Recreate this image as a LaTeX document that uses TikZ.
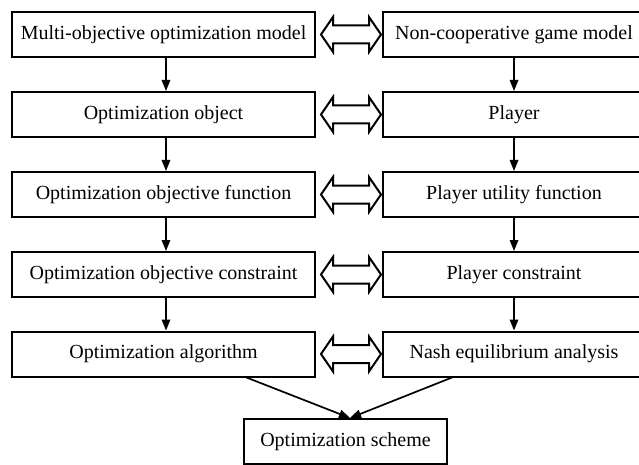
\documentclass[tikz,border=0pt]{standalone}
\usepackage{fontspec}
\setmainfont{Liberation Serif}
\usetikzlibrary{arrows.meta,calc}
\begin{document}
\begin{tikzpicture}[x=1pt,y=-1pt,
  box/.style={draw,line width=2pt,minimum height=45pt,inner sep=0pt,
    font=\fontsize{20}{24}\selectfont},
  lbox/.style={box,minimum width=303pt},
  rbox/.style={box,minimum width=262pt},
  flow/.style={line width=1.7pt,-{Triangle[length=11pt,width=8.5pt]}},
  link/.style={line width=2pt,fill=white,line join=miter}]
\useasboundingbox (0,0) rectangle (639,465);

% left column: optimization model
\node[lbox] (L1) at (163.5,34.5)  {Multi-objective optimization model};
\node[lbox] (L2) at (163.5,114.5) {Optimization object};
\node[lbox] (L3) at (163.5,194.5) {Optimization objective function};
\node[lbox] (L4) at (163.5,274.5) {Optimization objective constraint};
\node[lbox] (L5) at (163.5,354)   {Optimization algorithm};

% right column: game model
\node[rbox] (R1) at (514,34.5)  {Non-cooperative game model};
\node[rbox] (R2) at (514,114.5) {Player};
\node[rbox] (R3) at (514,194.5) {Player utility function};
\node[rbox] (R4) at (514,274.5) {Player constraint};
\node[rbox] (R5) at (514,354)   {Nash equilibrium analysis};

% result
\node[box,minimum width=203pt] (S) at (345.5,441.5) {Optimization scheme};

% vertical flow in each column
\foreach \a/\b in {1/2,2/3,3/4,4/5}{
  \draw[flow] ($(L\a.south)+(2.5,0)$) -- ($(L\b.north)+(2.5,0)$);
  \draw[flow] (R\a.south) -- (R\b.north);
}

% hollow double arrows linking corresponding concepts
\foreach \i in {1,...,5}{
  \coordinate (M\i) at ($(L\i.east)!0.5!(R\i.west)+(2,0)$);
  \draw[link] ($(M\i)+(-30,0)$) -- ++(12,-17.5) -- ++(0,8.5) -- ++(36,0)
    -- ++(0,-8.5) -- ++(12,17.5) -- ++(-12,17.5) -- ++(0,-8.5)
    -- ++(-36,0) -- ++(0,8.5) -- cycle;
}

% both outcomes feed the scheme
\draw[flow] ($(L5.south)+(83,0)$) -- ($(S.north)+(4.5,0)$);
\draw[flow] ($(R5.south)+(-62,0)$) -- ($(S.north)+(4.5,0)$);
\end{tikzpicture}
\end{document}
